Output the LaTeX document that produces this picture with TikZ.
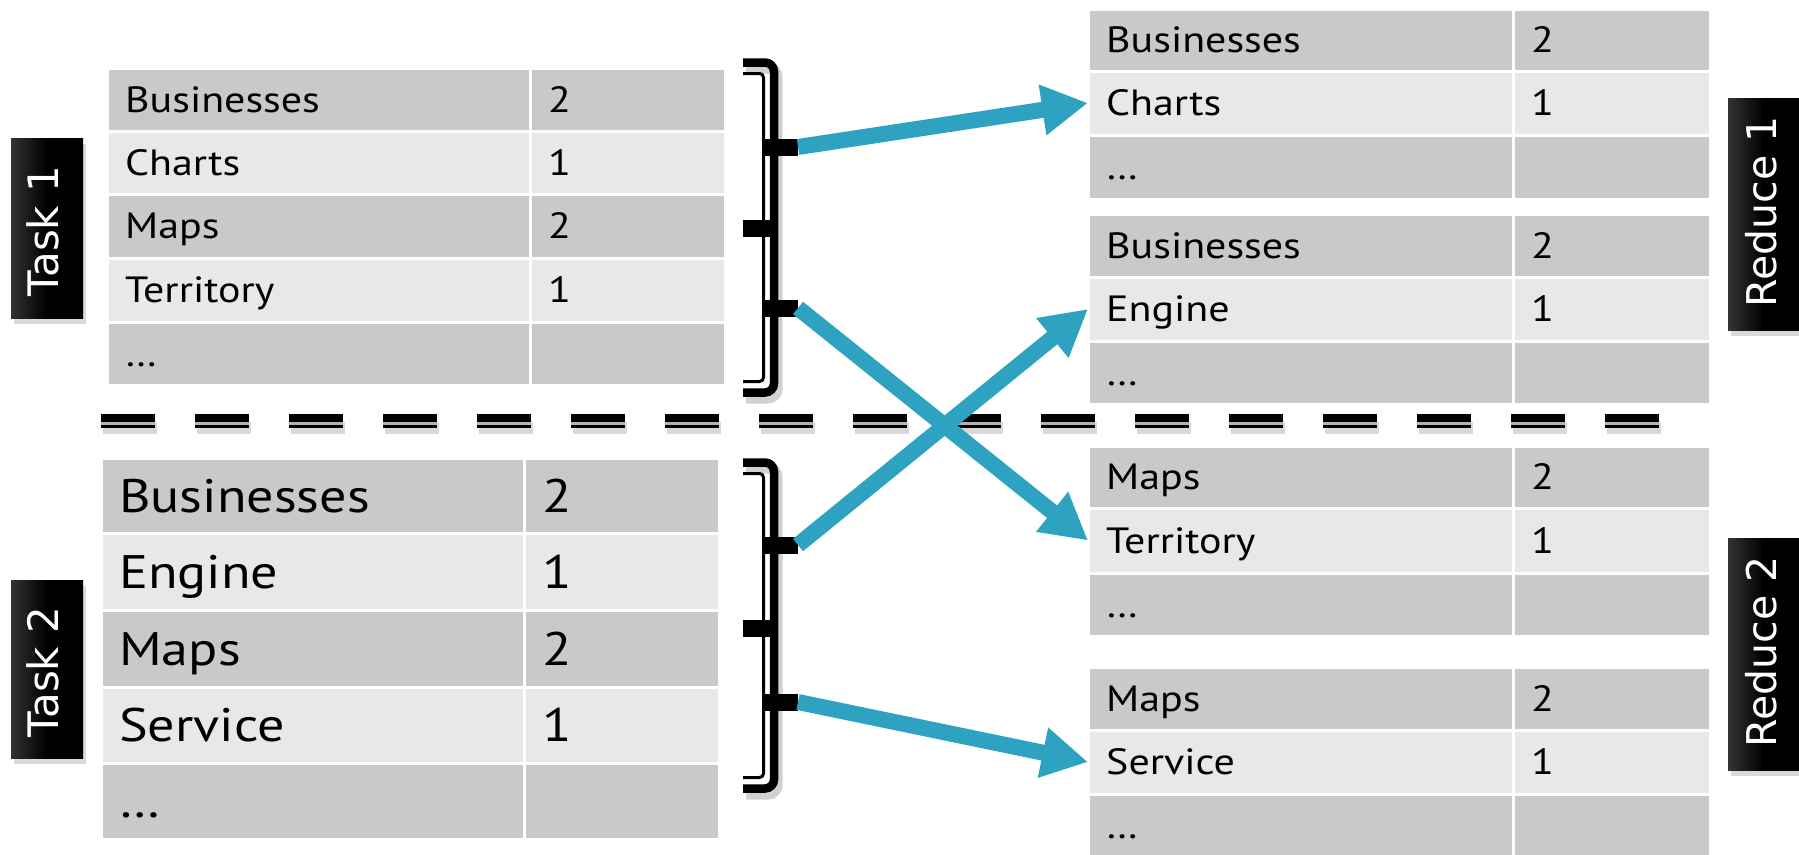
\documentclass[tikz,border=0pt]{standalone}
\usepackage{fontspec}
\usetikzlibrary{arrows.meta,shadows}
\newfontfamily\tabfont[FakeStretch=1.15]{PT Sans}
\newfontfamily\labfont{DejaVu Sans}
\definecolor{cdark}{RGB}{201,201,201}
\definecolor{clight}{RGB}{232,232,232}
\definecolor{tealc}{RGB}{46,163,193}

\tikzset{
 cell/.style={draw=white, line width=3pt, outer sep=0pt, inner sep=0pt},
 smalltxt/.style={font=\tabfont\fontsize{36.5}{40}\selectfont, inner sep=0pt, text height=25pt, text depth=0pt, anchor=west},
 bigtxt/.style={font=\tabfont\fontsize{47}{52}\selectfont, inner sep=0pt, text height=33pt, text depth=0pt, anchor=west},
 rowtxt/.style={smalltxt},
 labbox/.style={left color=black!80, right color=black, middle color=black, minimum width=72pt, inner sep=0pt, drop shadow={shadow xshift=3pt, shadow yshift=-6pt, opacity=0.3}},
 labtxt/.style={font=\labfont\fontsize{42}{46}\selectfont, text=white, rotate=90, inner sep=0pt},
 labtxtb/.style={labtxt, font=\labfont\fontsize{41}{45}\selectfont},
 flow/.style={draw=tealc, line width=16pt, -{Triangle[length=46pt,width=48pt]}},
 brshadow/.style={draw=black, opacity=0.18, line width=11pt},
}

% #1 name, #2 x0, #3 xdiv, #4 x1, #5 ytop, #6 ybot, #7 colour, #8 key, #9 value
\newcommand\crow[9]{%
 \node[cell, fill=#7, minimum width={#3-#2}, minimum height={#6-#5}] (#1k) at ({(#2+#3)/2},{(#5+#6)/2}) {};
 \node[cell, fill=#7, minimum width={#4-#3}, minimum height={#6-#5}] (#1v) at ({(#3+#4)/2},{(#5+#6)/2}) {};
 \node[rowtxt] (#1kt) at ({#2+18},{(#5+#6)/2}) {#8};
 \if\relax\detokenize{#9}\relax\else
 \node[rowtxt] (#1vt) at ({#3+18},{(#5+#6)/2}) {#9};
 \fi
}

% #1 name, #2 top, #3 bottom, #4 middle, #5 tip a, #6 tip b
\newcommand\mybrace[6]{%
 \draw[brshadow, rounded corners=9pt] (746,{#2+10}) -- (777,{#2+10}) -- (777,{#3+1}) -- (746,{#3+1});
 \draw[line width=8.5pt, rounded corners=9pt] (743,{#2+4.5}) -- (774,{#2+4.5}) -- (774,{#3-4.5}) -- (743,{#3-4.5});
 \draw[line width=3pt, rounded corners=4pt] (743,{#2+15.5}) -- (763.5,{#2+15.5}) -- (763.5,{#3-15.5}) -- (743,{#3-15.5});
 \fill (743,{#4-8.5}) rectangle (772,{#4+8.5});
 \draw[line width=17pt] (764,#5) -- (798,#5);
 \draw[line width=17pt] (764,#6) -- (798,#6);
 \coordinate (#1a) at (798,#5);
 \coordinate (#1b) at (798,#6);
}

\begin{document}
\begin{tikzpicture}[x=1pt,y=-1pt]
\useasboundingbox (0,0) rectangle (1799,854);

% separator
\coordinate (dl) at (101,418);
\coordinate (dr) at (1659,418);
\draw[line width=12pt, dash pattern=on 54pt off 40pt, opacity=0.15] ([xshift=2pt,yshift=-10pt]dl) -- ([xshift=2pt,yshift=-10pt]dr);
\draw[line width=3pt, dash pattern=on 54pt off 40pt, black!30] ([yshift=-5.5pt]dl) -- ([yshift=-5.5pt]dr);
\draw[line width=8pt, dash pattern=on 54pt off 40pt] (dl) -- (dr);
\draw[line width=2.5pt, dash pattern=on 54pt off 40pt] ([yshift=-8.5pt]dl) -- ([yshift=-8.5pt]dr);

% Task 1 table
\tikzset{rowtxt/.style={smalltxt}}
\crow{t1r1}{107}{530}{725}{68}{131}{cdark}{Businesses}{2}
\crow{t1r2}{107}{530}{725}{131}{194}{clight}{Charts}{1}
\crow{t1r3}{107}{530}{725}{194}{258}{cdark}{Maps}{2}
\crow{t1r4}{107}{530}{725}{258}{322}{clight}{Territory}{1}
\crow{t1r5}{107}{530}{725}{322}{385}{cdark}{…}{}

% Reduce tables
\crow{r1ar1}{1088}{1513}{1710}{9}{71}{cdark}{Businesses}{2}
\crow{r1ar2}{1088}{1513}{1710}{71}{135}{clight}{Charts}{1}
\crow{r1ar3}{1088}{1513}{1710}{135}{199}{cdark}{…}{}

\crow{r1br1}{1088}{1513}{1710}{214}{277}{cdark}{Businesses}{2}
\crow{r1br2}{1088}{1513}{1710}{277}{341}{clight}{Engine}{1}
\crow{r1br3}{1088}{1513}{1710}{341}{404}{cdark}{…}{}

\crow{r2ar1}{1088}{1513}{1710}{446}{508}{cdark}{Maps}{2}
\crow{r2ar2}{1088}{1513}{1710}{508}{573}{clight}{Territory}{1}
\crow{r2ar3}{1088}{1513}{1710}{573}{636}{cdark}{…}{}

\crow{r2br1}{1088}{1513}{1710}{667}{730}{cdark}{Maps}{2}
\crow{r2br2}{1088}{1513}{1710}{730}{794}{clight}{Service}{1}
\crow{r2br3}{1088}{1513}{1710}{794}{858}{cdark}{…}{}

% Task 2 table
\tikzset{rowtxt/.style={bigtxt}}
\crow{t2r1}{101}{524}{719}{458}{533}{cdark}{Businesses}{2}
\crow{t2r2}{101}{524}{719}{533}{610}{clight}{Engine}{1}
\crow{t2r3}{101}{524}{719}{610}{687}{cdark}{Maps}{2}
\crow{t2r4}{101}{524}{719}{687}{763}{clight}{Service}{1}
\crow{t2r5}{101}{524}{719}{763}{839}{cdark}{…}{}

% braces
\mybrace{b1}{58}{397}{228}{147}{308}
\mybrace{b2}{458}{793}{628}{545}{702}

% arrows
\draw[flow] (b1a) -- (r1ar2k.west);
\draw[flow] (b1b) -- (r2ar2k.west);
\draw[flow] (b2a) -- (r1br2k.west);
\draw[flow] (b2b) -- (r2br2k.west);

% labels
\node[labbox, minimum height=180pt] (task1) at (47,228) {};
\node[labtxt] (task1t) at (43,231) {Task 1};
\node[labbox, minimum height=178pt] (task2) at (47,669) {};
\node[labtxt] (task2t) at (43,672) {Task 2};
\node[labbox, minimum height=232pt] (red1) at (1764,214) {};
\node[labtxtb] (red1t) at (1761,212) {Reduce 1};
\node[labbox, minimum height=232pt] (red2) at (1764,654) {};
\node[labtxtb] (red2t) at (1761,652) {Reduce 2};
\end{tikzpicture}
\end{document}
